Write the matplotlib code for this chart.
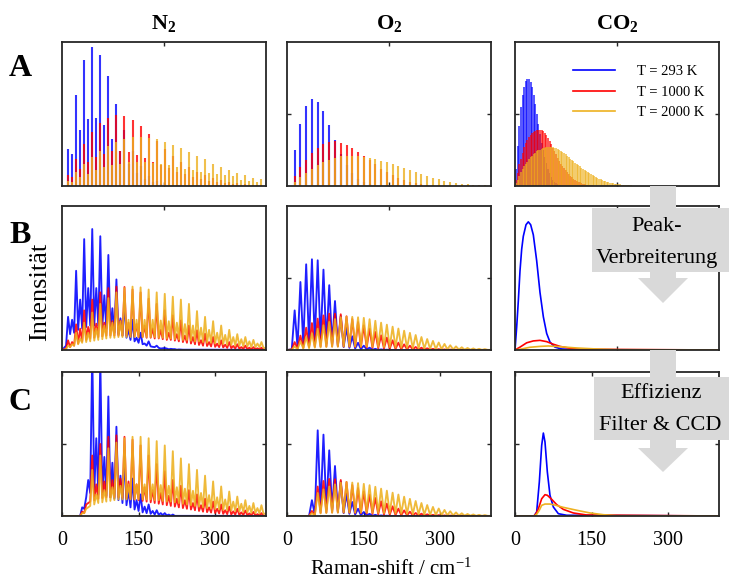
import numpy as np
import matplotlib
matplotlib.use('Agg')
import matplotlib.pyplot as plt
from matplotlib.patches import Polygon
from matplotlib.lines import Line2D

plt.rcParams['font.family'] = ['Liberation Serif', 'DejaVu Serif']
plt.rcParams['mathtext.fontset'] = 'custom'
plt.rcParams['mathtext.rm'] = 'Liberation Serif'
plt.rcParams['mathtext.bf'] = 'Liberation Serif:bold'
plt.rcParams['mathtext.it'] = 'Liberation Serif:italic'

# ---------------- labels ----------------
MOLECULES = [r'$\mathbf{N_2}$', r'$\mathbf{O_2}$', r'$\mathbf{CO_2}$']
ROWS = ['A', 'B', 'C']
TEMPS = ['T = 293 K', 'T = 1000 K', 'T = 2000 K']
COLORS = ['#0000ff', '#ff0000', '#edb120']
XTICKS_C = [0, 150, 300]
XLABEL = r'Raman-shift / cm$^{-1}$'
YLABEL = 'Intensität'
ARROW1 = ['Peak-', 'Verbreiterung']
ARROW2 = ['Effizienz', 'Filter & CCD']

# ---------------- N2 line positions (cm^-1) ----------------
n2_pos = [11.9, 19.8, 27.7, 35.6, 43.5, 51.4, 59.3, 67.2, 75.1, 83.0, 90.9, 98.8,
          106.7, 114.6, 122.5, 130.4, 138.3, 146.2, 154.1, 162.0, 169.9, 177.8, 185.7,
          193.6, 201.5, 209.4, 217.3, 225.2, 233.1, 241.0, 248.9, 256.8, 264.7, 272.6,
          280.5, 288.4, 296.3, 304.2, 312.1, 320.0, 327.9, 335.8, 343.7, 351.6, 359.5,
          367.4, 375.3, 383.2, 391.1]
# row A: stick heights
n2_a_293 = [.257, .225, .63, .387, .873, .468, .965, .475, .912, .421, .762, .329, .572, .241,
            .39, .155, .245, .092, .14, .05, .072, .025, .034, .011, .015, .005, .006, .002, .002]
n2_a_1000 = [.074, .063, .19, .12, .294, .167, .375, .2, .4375, .225, .475, .24, .49, .24, .484,
             .234, .456, .213, .414, .194, .363, .17, .31, .145, .26, .122, .21, .10, .17, .08,
             .13, .062, .10, .047, .075, .035, .055, .026, .04, .019, .028, .013, .02, .009,
             .013, .006, .009, .004, .006]
n2_a_2000 = [.035, .03, .095, .063, .15, .086, .20, .109, .243, .132, .28, .144, .306, .155, .324,
             .164, .34, .167, .34, .164, .333, .16, .324, .155, .308, .144, .285, .132, .264, .12,
             .236, .109, .21, .097, .185, .093, .155, .08, .132, .074, .109, .067, .09, .044, .074,
             .032, .058, .028, .046]
# row B: peak heights and troughs (before first line, then after each line)
n2_b_293_pk = [.23, .21, .55, .35, .77, .43, .84, .43, .79, .38, .66, .29, .49, .22, .33, .14, .21,
               .085, .12, .045, .06, .022, .03, .01, .013, .005, .006, .002, .003]
n2_b_293_tr = [.03, .11, .12, .14, .15, .16, .17, .17, .17, .16, .15, .14, .12, .11, .10, .085, .07,
               .06, .05, .04, .03, .025, .02, .015, .012, .01, .008, .006, .004, .002]
n2_b_1000_pk = [.067, .055, .178, .148, .275, .16, .35, .183, .40, .19, .43, .2, .44, .205, .4375,
                .19, .42, .18, .40, .17, .356, .15, .32, .14, .275, .12, .24, .11, .206, .10, .17,
                .09, .137, .068, .113, .055, .09, .044, .067, .037, .055, .028, .04, .02, .03,
                .016, .02, .012, .016]
n2_b_1000_tr = [.01, .02, .03, .045, .06, .07, .08, .085, .09, .095, .10, .10, .10, .10, .10, .10,
                .095, .095, .09, .09, .085, .085, .08, .08, .075, .07, .07, .065, .06, .055, .05,
                .045, .04, .035, .03, .028, .025, .022, .02, .018, .015, .013, .011, .01, .008,
                .007, .006, .005, .004, .003]
n2_b_2000_pk = [.03, .04, .12, .08, .19, .12, .26, .15, .32, .17, .36, .19, .40, .20, .43, .21, .44,
                .21, .435, .21, .42, .21, .40, .205, .39, .20, .37, .19, .35, .18, .32, .17, .27,
                .155, .23, .14, .20, .12, .17, .105, .14, .09, .11, .075, .09, .06, .07, .045, .055]
n2_b_2000_tr = [.005, .02, .03, .04, .05, .055, .06, .065, .07, .075, .08, .085, .085, .09, .09,
                .09, .09, .09, .09, .09, .09, .09, .09, .085, .085, .08, .08, .075, .075, .07, .07,
                .065, .06, .06, .055, .05, .05, .045, .04, .04, .035, .035, .03, .03, .025, .025,
                .02, .02, .02, .015]
# row C
n2_c_293_pk = [0, 0, 0, 0, .05, .25, 1.15, .54, 1.1, .41, .83, .37, .62, .28, .41, .18, .26, .11,
               .15, .065, .08, .035, .04, .02, .02, .01, .01]
n2_c_293_tr = [0, 0, 0, 0, .06, .13, .16, .16, .15, .15, .14, .13, .12, .11, .09, .075, .06, .045,
               .035, .025, .02, .015, .01, .008, .006, .004, .002, .001]
n2_c_1000_pk = [0, 0, 0, 0, .02, .09, .42, .22, .5, .24, .55, .25, .56, .26, .55, .24, .53, .22,
                .49, .2, .42, .18, .36, .16, .31, .14, .25, .12, .21, .11, .18, .09, .15, .075,
                .12, .06, .10, .05, .08, .04, .065, .032, .05, .025, .038, .018, .028, .013, .02]
n2_c_1000_tr = [0, 0, 0, 0, .03, .08, .1, .11, .12, .125, .13, .13, .13, .13, .125, .12, .12, .115,
                .11, .105, .1, .095, .09, .085, .08, .075, .07, .065, .06, .055, .05, .045, .04,
                .035, .03, .027, .024, .021, .018, .015, .013, .011, .01, .008, .007, .006, .005,
                .004, .003, .002]
n2_c_2000_pk = [0, 0, 0, 0, .02, .06, .32, .15, .42, .18, .47, .2, .51, .21, .54, .22, .55, .22,
                .55, .22, .54, .22, .52, .215, .49, .21, .45, .2, .40, .19, .36, .175, .32, .16,
                .28, .145, .24, .13, .205, .115, .17, .1, .135, .085, .11, .07, .09, .055, .075]
n2_c_2000_tr = [0, 0, 0, 0, .02, .05, .07, .08, .09, .095, .1, .105, .11, .115, .115, .115, .115,
                .115, .115, .115, .115, .115, .11, .11, .105, .1, .1, .095, .09, .085, .08, .075,
                .07, .065, .06, .055, .05, .048, .045, .042, .04, .037, .034, .031, .028, .025,
                .022, .02, .018, .016]

# ---------------- O2 ----------------
o2_pos = [15.0, 26.3, 37.6, 48.9, 60.2, 71.5, 82.8, 94.1, 105.4, 116.7, 128.0, 139.3, 150.6,
          161.9, 173.2, 184.5, 195.8, 207.1, 218.4, 229.7, 241.0, 252.3, 263.6, 274.9, 286.2,
          297.5, 308.8, 320.1, 331.4, 342.7, 354.0, 365.3, 376.6, 387.9]
o2_a_293 = [.248, .428, .553, .602, .586, .519, .421, .317, .22, .145, .09, .05, .028, .015, .008]
o2_a_1000 = [.067, .132, .183, .229, .266, .292, .306, .3125, .30, .287, .266, .238, .21, .18, .15,
             .12, .095, .075, .057, .042, .03, .022, .015, .01, .007, .005, .003, .002]
o2_a_2000 = [.028, .063, .093, .116, .144, .164, .183, .197, .206, .208, .21, .208, .204, .197,
             .1875, .176, .164, .15, .137, .123, .109, .095, .081, .069, .058, .046, .037, .028,
             .021, .016, .012, .009, .007, .005]
o2_b_293_pk = [.275, .472, .595, .63, .623, .558, .45, .34, .235, .155, .095, .05, .03, .016, .008,
               .004, .002]
o2_b_293_tr = [.005, .02, .035, .045, .05, .05, .045, .04, .03, .02, .015, .01, .006, .004, .002,
               .001, .001, 0]
o2_b_1000_pk = [.055, .10, .155, .187, .218, .24, .252, .252, .248, .234, .215, .194, .171, .148,
                .125, .102, .086, .067, .051, .039, .03, .021, .016, .012, .008, .006, .004, .003,
                .002, .002, .001, .001, .001, .001]
o2_b_1000_tr = [.003, .01, .015, .02, .022, .024, .025, .025, .025, .024, .023, .021, .019, .017,
                .015, .013, .011, .009, .007, .006, .005, .004, .003, .002, .002, .001, .001, .001,
                .001, 0, 0, 0, 0, 0, 0]
o2_b_2000_pk = [.025, .06, .09, .115, .148, .172, .195, .215, .228, .232, .23, .227, .223, .214,
                .203, .19, .176, .162, .149, .134, .119, .104, .09, .076, .063, .052, .042, .033,
                .025, .019, .014, .011, .008, .006]
o2_b_2000_tr = [.002, .005, .01, .013, .016, .018, .02, .022, .023, .024, .024, .024, .023, .023,
                .022, .021, .02, .019, .017, .016, .014, .012, .011, .009, .008, .007, .006, .005,
                .004, .003, .002, .002, .001, .001, .001]
o2_c_293_pk = [0, 0, 0, .11, .595, .565, .456, .347, .24, .155, .097, .05, .028, .015, .008, .004,
               .002]
o2_c_293_tr = [0, 0, 0, 0, .01, .045, .045, .04, .03, .02, .015, .01, .006, .004, .002, .001, .001,
               0]
o2_c_1000_pk = [0, 0, 0, .035, .205, .243, .257, .255, .25, .236, .215, .194, .171, .148, .125,
                .102, .086, .067, .051, .039, .03, .021, .016, .012, .008, .006, .004, .003, .002,
                .002, .001, .001, .001, .001]
o2_c_1000_tr = [0, 0, 0, 0, .005, .022, .024, .025, .025, .024, .023, .021, .019, .017, .015, .013,
                .011, .009, .007, .006, .005, .004, .003, .002, .002, .001, .001, .001, .001, 0, 0,
                0, 0, 0, 0]
o2_c_2000_pk = [0, 0, 0, .02, .16, .185, .205, .22, .232, .236, .232, .228, .223, .214, .203, .19,
                .176, .162, .149, .134, .119, .104, .09, .076, .063, .052, .042, .033, .025, .019,
                .014, .011, .008, .006]
o2_c_2000_tr = [0, 0, 0, 0, .003, .018, .02, .022, .023, .024, .024, .024, .023, .023, .022, .021,
                .02, .019, .017, .016, .014, .012, .011, .009, .008, .007, .006, .005, .004, .003,
                .002, .002, .001, .001, .001]

# ---------------- CO2 ----------------
co2_pos = [2.3, 5.5, 8.6, 11.7, 14.8, 17.9, 21.1, 24.2, 27.3, 30.4, 33.5, 36.7, 39.8, 42.9, 46.0,
           49.1, 52.3, 55.4, 58.5, 61.6, 64.7, 67.9, 71.0, 74.1, 77.2, 80.3, 83.5, 86.6, 89.7,
           92.8, 95.9, 99.1, 102.2, 105.3, 108.4, 111.5, 114.7, 117.8, 120.9, 124.0, 127.1,
           130.3, 133.4, 136.5, 139.6, 142.7, 145.9, 149.0, 152.1, 155.3, 158.4, 161.5, 164.6,
           167.7, 170.9, 174.0, 177.1, 180.2, 183.3, 186.5, 189.6, 192.7, 195.8, 198.9, 202.1,
           205.2, 208.3, 211.4, 214.5, 217.7, 220.8, 223.9, 227.0, 230.1, 233.3, 236.4]
co2_a_293 = [.12, .28, .42, .55, .63, .69, .73, .745, .745, .72, .69, .63, .57, .50, .43, .36, .30,
             .25, .20, .16, .12, .09, .065, .045, .03, .02, .013, .008, .005]
co2_a_1000 = [.04, .09, .15, .19, .23, .27, .30, .32, .34, .355, .365, .375, .382, .387, .39, .39,
              .387, .38, .37, .355, .335, .315, .29, .265, .245, .22, .195, .175, .155, .14, .125,
              .11, .095, .082, .07, .06, .05, .043, .036, .03, .025, .02, .016, .013, .01, .008,
              .006, .005, .004, .003, .002, .002]
co2_a_2000 = [.02, .045, .07, .095, .12, .14, .155, .17, .19, .20, .21, .22, .232, .24, .247, .253,
              .259, .264, .267, .269, .27, .27, .27, .268, .265, .262, .257, .251, .245, .238, .23,
              .22, .21, .20, .19, .181, .172, .163, .154, .145, .137, .128, .12, .112, .104, .096,
              .089, .081, .075, .068, .062, .056, .051, .046, .042, .038, .034, .03, .027, .024,
              .021, .019, .017, .015, .013, .011, .01, .009, .008, .007, .006, .005, .004, .003,
              .003, .002]
# rows B and C: smooth curves read as (shift, intensity) points
co2_b_293_x = [0, 3.3, 6.5, 9.8, 13.1, 16.3, 21.6, 26.1, 30.7, 35.9, 42.5, 49.0, 55.6, 62.1, 68.6,
               78.4, 91.5, 120.9, 400]
co2_b_293_y = [0, .16, .34, .55, .70, .79, .87, .89, .87, .80, .62, .40, .23, .115, .055, .02,
               .007, .002, 0]
co2_b_1000_x = [0, 9.8, 22.9, 35.9, 49.0, 62.1, 75.2, 88.2, 107.8, 134.0, 400]
co2_b_1000_y = [0, .02, .05, .063, .067, .058, .04, .025, .012, .005, 0]
co2_b_2000_x = [0, 9.8, 29.4, 49.0, 65.4, 88.2, 120.9, 160.1, 199.3, 400]
co2_b_2000_y = [0, .005, .019, .025, .028, .023, .014, .007, .002, 0]
co2_c_293_x = [0, 37.3, 42.5, 47.7, 52.3, 55.6, 58.8, 63.4, 68.6, 75.2, 85.0, 101.3, 400]
co2_c_293_y = [0, 0, .028, .236, .49, .576, .514, .306, .144, .0625, .016, .005, 0]
co2_c_1000_x = [0, 37.3, 41.2, 45.8, 52.3, 58.8, 63.4, 71.9, 81.7, 94.8, 114.4, 140.5, 400]
co2_c_1000_y = [0, 0, .016, .05, .12, .148, .144, .116, .079, .046, .021, .007, 0]
co2_c_2000_x = [0, 37.3, 42.5, 47.7, 52.3, 58.8, 68.6, 78.4, 94.8, 120.9, 147.1, 173.2, 199.3, 400]
co2_c_2000_y = [0, 0, .012, .04, .074, .083, .083, .076, .06, .04, .021, .009, .002, 0]

# ---------------- figure ----------------
W, H = 729.0, 584.0
fig = plt.figure(figsize=(W / 100, H / 100), dpi=100)
COL_LEFT = [62, 287, 515]
ROW_TOP = [42, 206, 372]
AX_W, AX_H = 204, 144
SPINE = '#262626'
YTICK_PANELS = {(0, 1), (0, 2), (1, 1), (2, 0), (2, 1), (2, 2)}


def make_ax(r, c):
    ax = fig.add_axes([COL_LEFT[c] / W, 1 - (ROW_TOP[r] + AX_H) / H, AX_W / W, AX_H / H])
    ax.set_xlim(0, 400)
    ax.set_ylim(0, 1)
    for s in ax.spines.values():
        s.set_color(SPINE)
        s.set_linewidth(1.3)
    ax.tick_params(direction='in', top=True, right=True, length=3, width=1.0,
                   color=SPINE, labelsize=14.5, pad=11)
    if r < 2:
        ax.set_xticks([200])
        ax.set_xticklabels([])
    else:
        ax.set_xticks(XTICKS_C)
        ax.set_xticklabels([str(v) for v in XTICKS_C])
    ax.set_yticks([0.5] if (r, c) in YTICK_PANELS else [])
    ax.set_yticklabels([])
    return ax


def sticks(ax, pos, heights, color, lw, alpha=0.8):
    n = len(heights)
    ax.vlines(pos[:n], 0, heights, colors=color, lw=lw, alpha=alpha)


def zigzag(ax, pos, peaks, troughs, color):
    n = len(peaks)
    h = (pos[1] - pos[0]) / 2.0
    xs = [0, pos[0] - h]
    ys = [0, troughs[0]]
    for i in range(n):
        xs += [pos[i], pos[i] + h]
        ys += [peaks[i], troughs[i + 1]]
    xs.append(400)
    ys.append(troughs[n])
    ax.plot(xs, ys, color=color, lw=1.35, alpha=0.88, solid_joinstyle='round')


axes = [[make_ax(r, c) for c in range(3)] for r in range(3)]

# Row A
for data, col in zip([n2_a_293, n2_a_1000, n2_a_2000], COLORS):
    sticks(axes[0][0], n2_pos, data, col, 1.5)
for data, col in zip([o2_a_293, o2_a_1000, o2_a_2000], COLORS):
    sticks(axes[0][1], o2_pos, data, col, 1.5)
for data, col in zip([co2_a_293, co2_a_1000, co2_a_2000], COLORS):
    sticks(axes[0][2], co2_pos, data, col, 1.25, 0.75)

# Row B
for pk, tr, col in zip([n2_b_293_pk, n2_b_1000_pk, n2_b_2000_pk],
                       [n2_b_293_tr, n2_b_1000_tr, n2_b_2000_tr], COLORS):
    zigzag(axes[1][0], n2_pos, pk, tr, col)
for pk, tr, col in zip([o2_b_293_pk, o2_b_1000_pk, o2_b_2000_pk],
                       [o2_b_293_tr, o2_b_1000_tr, o2_b_2000_tr], COLORS):
    zigzag(axes[1][1], o2_pos, pk, tr, col)
for xs, ys, col in zip([co2_b_293_x, co2_b_1000_x, co2_b_2000_x],
                       [co2_b_293_y, co2_b_1000_y, co2_b_2000_y], COLORS):
    axes[1][2].plot(xs, ys, color=col, lw=1.2)

# Row C
for pk, tr, col in zip([n2_c_293_pk, n2_c_1000_pk, n2_c_2000_pk],
                       [n2_c_293_tr, n2_c_1000_tr, n2_c_2000_tr], COLORS):
    zigzag(axes[2][0], n2_pos, pk, tr, col)
for pk, tr, col in zip([o2_c_293_pk, o2_c_1000_pk, o2_c_2000_pk],
                       [o2_c_293_tr, o2_c_1000_tr, o2_c_2000_tr], COLORS):
    zigzag(axes[2][1], o2_pos, pk, tr, col)
for xs, ys, col in zip([co2_c_293_x, co2_c_1000_x, co2_c_2000_x],
                       [co2_c_293_y, co2_c_1000_y, co2_c_2000_y], COLORS):
    axes[2][2].plot(xs, ys, color=col, lw=1.2)

# legend
handles = [Line2D([], [], color=c, lw=1.2) for c in COLORS]
axes[0][2].legend(handles, TEMPS, loc='upper left', bbox_to_anchor=(0.284, 0.84),
                  frameon=False, fontsize=10.5, handlelength=2.9, handletextpad=1.5,
                  labelspacing=0.5, borderpad=0, borderaxespad=0)

# column titles and row letters
for c, name in enumerate(MOLECULES):
    fig.text((COL_LEFT[c] + AX_W / 2) / W, 1 - 29 / H, name, ha='center', va='baseline',
             fontsize=16)
for r, lab in enumerate(ROWS):
    fig.text(20 / W, 1 - [76, 243, 410][r] / H, lab, ha='center', va='baseline',
             fontsize=23, fontweight='bold')

fig.text(390.5 / W, 1 - 569 / H, XLABEL, ha='center', va='center', fontsize=15)
fig.text(40 / W, 1 - 292 / H, YLABEL, ha='center', va='center', rotation=90, fontsize=19)

# grey process arrows
GREY = '#d9d9d9'


def block_arrow(y_start, rect_top, rect_bot, head_base, tip, rect_left):
    pts = [(650, y_start), (676, y_start), (676, rect_top), (729, rect_top), (729, rect_bot),
           (676, rect_bot), (676, head_base), (688, head_base), (663, tip), (638, head_base),
           (650, head_base), (650, rect_bot), (rect_left, rect_bot), (rect_left, rect_top),
           (650, rect_top)]
    pts = [(x / W, 1 - y / H) for x, y in pts]
    fig.add_artist(Polygon(pts, closed=True, transform=fig.transFigure, facecolor=GREY,
                           edgecolor='none', zorder=10))


block_arrow(186, 208, 272, 278, 303, 592)
block_arrow(350, 377, 440, 448, 472, 594)
fig.text(657 / W, 1 - 231 / H, ARROW1[0], ha='center', va='baseline', fontsize=16, zorder=11)
fig.text(657 / W, 1 - 263 / H, ARROW1[1], ha='center', va='baseline', fontsize=16, zorder=11)
fig.text(661 / W, 1 - 398 / H, ARROW2[0], ha='center', va='baseline', fontsize=16, zorder=11)
fig.text(660 / W, 1 - 430 / H, ARROW2[1], ha='center', va='baseline', fontsize=16, zorder=11)

fig.savefig('out.png', dpi=100)
